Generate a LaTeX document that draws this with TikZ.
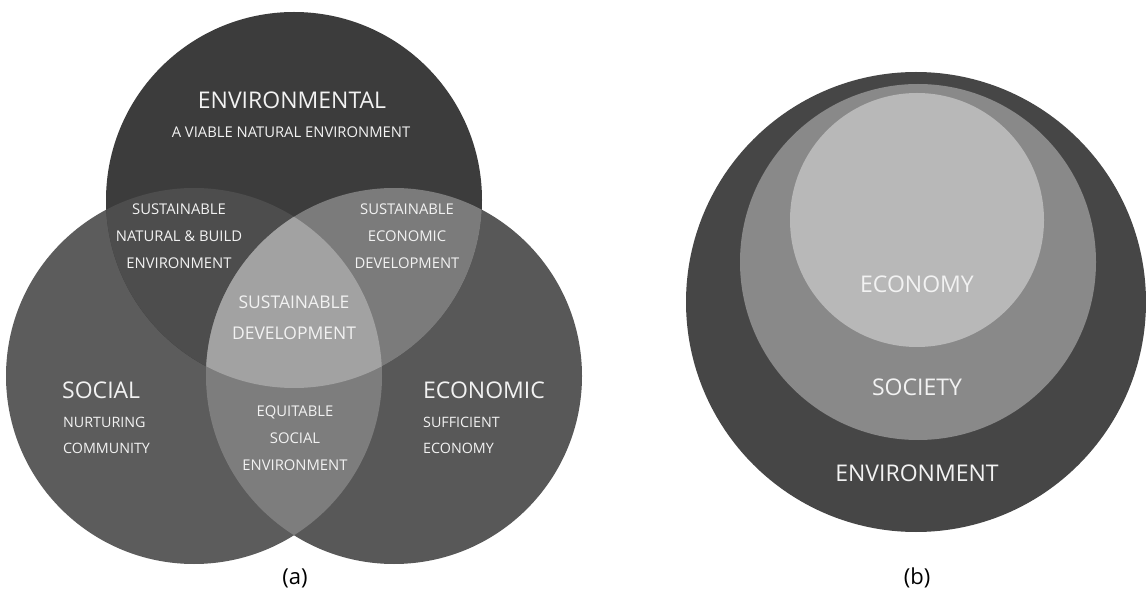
\documentclass[tikz,border=0pt]{standalone}
\usepackage{fontspec}
\setmainfont{Open Sans}
\definecolor{cT}{HTML}{3C3C3C}
\definecolor{cL}{HTML}{5C5C5C}
\definecolor{cR}{HTML}{585858}
\definecolor{cTL}{HTML}{4D4D4D}
\definecolor{cTR}{HTML}{7B7B7B}
\definecolor{cLR}{HTML}{7D7D7D}
\definecolor{cSD}{HTML}{A2A2A2}
\definecolor{cEnv}{HTML}{464646}
\definecolor{cSoc}{HTML}{898989}
\definecolor{cEco}{HTML}{B8B8B8}
\definecolor{txt}{HTML}{F2F2F2}
\begin{document}
\begin{tikzpicture}[x=1pt,y=-1pt,
  lbl/.style={text=txt, inner sep=0pt, align=center},
  big/.style={lbl, font=\fontsize{23}{27}\selectfont},
  mid/.style={lbl, font=\fontsize{17.5}{31}\selectfont},
  small/.style={lbl, font=\fontsize{14.8}{27}\selectfont},
  sub/.style={lbl, font=\fontsize{14.3}{27}\selectfont},
  sublabel/.style={inner sep=0pt, text=black, font=\fontsize{22}{26}\selectfont}]
\fill[white] (0,0) rectangle (1146,601);
\useasboundingbox (0,0) rectangle (1146,601);
% Venn (a)
\def\cT{(294,200) circle [radius=188pt]}
\def\cL{(194,376) circle [radius=188pt]}
\def\cR{(394,376) circle [radius=188pt]}
\fill[cL] \cL;
\fill[cR] \cR;
\fill[cT] \cT;
\begin{scope}\clip \cT; \fill[cTL] \cL; \fill[cTR] \cR; \end{scope}
\begin{scope}\clip \cL; \fill[cLR] \cR; \end{scope}
\begin{scope}\clip \cT; \clip \cL; \fill[cSD] \cR; \end{scope}
\node[big] (env) at (292,100) {ENVIRONMENTAL};
\node[small] (envs) at (291,132) {A VIABLE NATURAL ENVIRONMENT};
\node[small] (snb) at (179,236) {SUSTAINABLE\\NATURAL \& BUILD\\ENVIRONMENT};
\node[small] (sed) at (407,236) {SUSTAINABLE\\ECONOMIC\\DEVELOPMENT};
\node[mid] (sd) at (294,318) {SUSTAINABLE\\DEVELOPMENT};
\node[big, anchor=west] (soc) at (62,390) {SOCIAL};
\node[sub, anchor=west] (nur) at (63,422) {NURTURING};
\node[sub, anchor=west] (com) at (63,448) {COMMUNITY};
\node[big, anchor=west] (eco) at (423,390) {ECONOMIC};
\node[sub, anchor=west] (suf) at (423,422) {SUFFICIENT};
\node[sub, anchor=west] (ecy) at (423,448) {ECONOMY};
\node[small] (eq) at (295,438) {EQUITABLE\\SOCIAL\\ENVIRONMENT};
\node[sublabel] (a) at (295,578) {(a)};
% Nested (b)
\fill[cEnv] (916,302) circle [radius=230pt];
\fill[cSoc] (918,262) circle [radius=178pt];
\fill[cEco] (917,220) circle [radius=127pt];
\node[big] (economy) at (917,284) {ECONOMY};
\node[big] (society) at (917,387) {SOCIETY};
\node[big] (environment) at (917,473) {ENVIRONMENT};
\node[sublabel] (b) at (917,578) {(b)};
\end{tikzpicture}
\end{document}
